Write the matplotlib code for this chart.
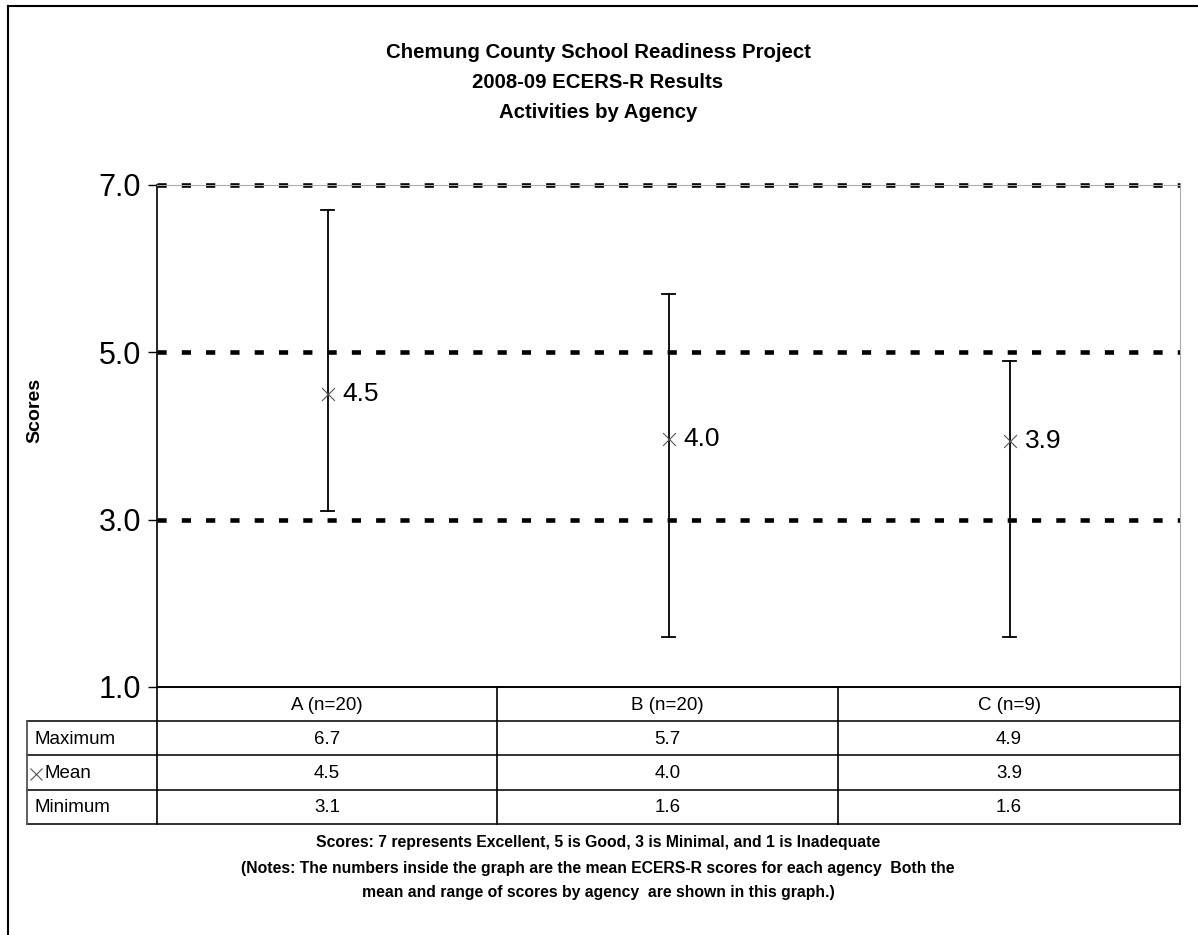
import matplotlib.pyplot as plt
from matplotlib.lines import Line2D

plt.rcParams['font.family'] = ['Liberation Sans', 'DejaVu Sans']

# data
agencies = ['A (n=20)', 'B (n=20)', 'C (n=9)']
maximum = [6.7, 5.7, 4.9]
mean = [4.5, 3.96, 3.94]
minimum = [3.1, 1.6, 1.6]
y_ticks = [1.0, 3.0, 5.0, 7.0]
grid_levels = [3.0, 5.0, 7.0]

W, H = 1198, 935
fig = plt.figure(figsize=(W / 100, H / 100), dpi=100)


def fx(px):
    return px / W


def fy(py):
    return 1 - py / H


def hline(y, x0, x1, c='black', lw=1.0):
    fig.add_artist(Line2D([fx(x0), fx(x1)], [fy(y), fy(y)], color=c, lw=lw, transform=fig.transFigure))


def vline(x, y0, y1, c='black', lw=1.0):
    fig.add_artist(Line2D([fx(x), fx(x)], [fy(y0), fy(y1)], color=c, lw=lw, transform=fig.transFigure))


# outer frame (only top and left edges are visible)
hline(6, 8, W, lw=1.5)
vline(8, 6, H, lw=1.5)

# plot area
left, right, top, bottom = 157, 1180, 185, 687
ax = fig.add_axes([fx(left), fy(bottom), fx(right - left), fy(top) - fy(bottom)])
ax.set_xlim(-0.5, len(agencies) - 0.5)
ax.set_ylim(1.0, 7.0)
for y in grid_levels:
    ax.axhline(y, color='black', lw=3.3, ls=(0, (2.0, 3.3)), zorder=1, clip_on=False)

xs = list(range(len(agencies)))
for i in xs:
    ax.plot([i, i], [minimum[i], maximum[i]], color='black', lw=1.3, zorder=2)
    for v in (minimum[i], maximum[i]):
        ax.plot([i - 0.018, i + 0.018], [v, v], color='black', lw=1.3, zorder=2)
ax.scatter(xs, mean, marker='x', s=85, color='#555555', linewidths=0.8, zorder=3)
for i in xs:
    ax.annotate(f'{mean[i]:.1f}', (i, mean[i]), xytext=(11, 0), textcoords='offset points',
                fontsize=19, va='center', ha='left')

ax.set_yticks(y_ticks)
ax.set_yticklabels([f'{t:.1f}' for t in y_ticks], fontsize=22)
ax.tick_params(axis='y', length=6.5, width=1, pad=5)
ax.set_xticks([])
ax.spines['top'].set_color('#aaaaaa')
ax.spines['right'].set_color('#aaaaaa')
ax.spines['bottom'].set_color('#aaaaaa')
ax.spines['left'].set_color('black')
ax.spines['left'].set_linewidth(1.2)

fig.text(fx(35), fy(410), 'Scores', rotation=90, ha='center', va='center', fontsize=14, fontweight='bold')

# title
title_lines = ['Chemung County School Readiness Project', '2008-09 ECERS-R Results', 'Activities by Agency']
for k, t in enumerate(title_lines):
    fig.text(fx(598), fy(53 + k * 30), t, ha='center', va='center', fontsize=14.7, fontweight='bold')

# data table
col_edges = [157, 497, 838, 1180]
row_edges = [687, 721, 755, 790, 824]
label_left = 27
table_rows = [('Maximum', maximum), ('Mean', mean), ('Minimum', minimum)]

hline(row_edges[0], col_edges[0], col_edges[-1], lw=1.4)
for y in row_edges[1:]:
    hline(y, label_left, col_edges[-1], c='#222222', lw=1.3)
for x in col_edges[:-1]:
    vline(x, row_edges[0], row_edges[-1], lw=1.2)
vline(col_edges[-1], row_edges[0], row_edges[-1], lw=1.3)
vline(label_left, row_edges[1], row_edges[-1], c='#555555', lw=1.3)

for j, name in enumerate(agencies):
    cx = (col_edges[j] + col_edges[j + 1]) / 2
    fig.text(fx(cx), fy((row_edges[0] + row_edges[1]) / 2 + 1), name, ha='center', va='center', fontsize=13.5)
for r, (label, vals) in enumerate(table_rows):
    cy = (row_edges[r + 1] + row_edges[r + 2]) / 2 + 1
    lx = 35
    if label == 'Mean':
        lx = 45
        fig.add_artist(Line2D([fx(36)], [fy(cy)], marker='x', markersize=9, color='#555555',
                              markeredgewidth=0.8, transform=fig.transFigure))
    fig.text(fx(lx), fy(cy), label, ha='left', va='center', fontsize=13.5)
    for j, v in enumerate(vals):
        cx = (col_edges[j] + col_edges[j + 1]) / 2
        fig.text(fx(cx), fy(cy), f'{v:.1f}', ha='center', va='center', fontsize=13.5)

# notes
notes = ['Scores: 7 represents Excellent, 5 is Good, 3 is Minimal, and 1 is Inadequate',
         '(Notes: The numbers inside the graph are the mean ECERS-R scores for each agency  Both the',
         'mean and range of scores by agency  are shown in this graph.)']
for k, t in enumerate(notes):
    fig.text(fx(598), fy(843 + k * 25), t, ha='center', va='center', fontsize=11.3, fontweight='bold')

fig.savefig('out.png', dpi=100)
